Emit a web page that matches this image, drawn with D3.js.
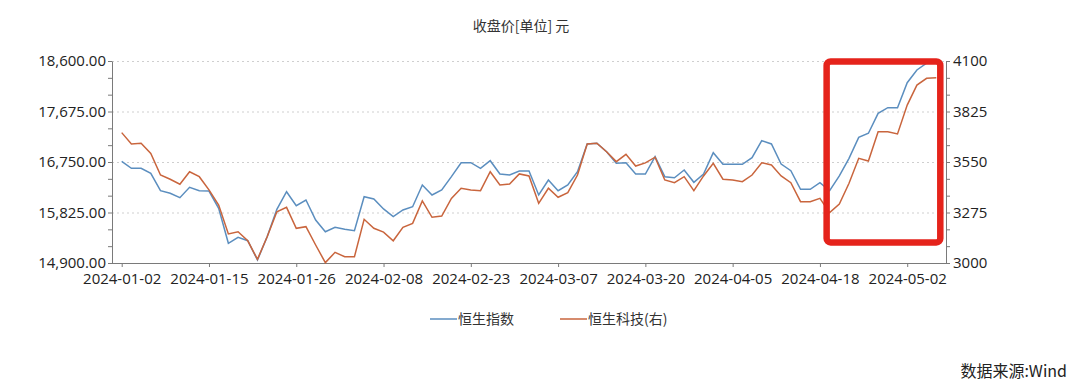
<!DOCTYPE html>
<html>
<head>
<meta charset="utf-8">
<script src="https://cdn.jsdelivr.net/npm/d3@7"></script>
<style>
  body { margin: 0; background: #fff; }
  svg { display: block; }
  .axis text { font-family: "Open Sans", "Noto Sans", sans-serif; font-size: 15px; fill: #222; }
  .axis path, .axis line { stroke: #7a7a7a; }
  .cjk { font-family: "Noto Sans CJK SC", sans-serif; fill: #333; }
</style>
</head>
<body>
<svg id="chart" width="1080" height="383"></svg>
<script>
// trading days shown on the chart
const dates = [
  "2024-01-02","2024-01-03","2024-01-04","2024-01-05","2024-01-08","2024-01-09","2024-01-10","2024-01-11","2024-01-12","2024-01-15",
  "2024-01-16","2024-01-17","2024-01-18","2024-01-19","2024-01-22","2024-01-23","2024-01-24","2024-01-25","2024-01-26","2024-01-29",
  "2024-01-30","2024-01-31","2024-02-01","2024-02-02","2024-02-05","2024-02-06","2024-02-07","2024-02-08","2024-02-09","2024-02-14",
  "2024-02-15","2024-02-16","2024-02-19","2024-02-20","2024-02-21","2024-02-22","2024-02-23","2024-02-26","2024-02-27","2024-02-28",
  "2024-02-29","2024-03-01","2024-03-04","2024-03-05","2024-03-06","2024-03-07","2024-03-08","2024-03-11","2024-03-12","2024-03-13",
  "2024-03-14","2024-03-15","2024-03-18","2024-03-19","2024-03-20","2024-03-21","2024-03-22","2024-03-25","2024-03-26","2024-03-27",
  "2024-03-28","2024-04-02","2024-04-03","2024-04-05","2024-04-08","2024-04-09","2024-04-10","2024-04-11","2024-04-12","2024-04-15",
  "2024-04-16","2024-04-17","2024-04-18","2024-04-19","2024-04-22","2024-04-23","2024-04-24","2024-04-25","2024-04-26","2024-04-29",
  "2024-04-30","2024-05-02","2024-05-03","2024-05-06","2024-05-07"
];

// 恒生指数 (left axis)
const hsi = [
  16760,16635,16635,16543,16224,16177,16096,16286,16224,16217,
  15900,15261,15371,15309,14955,15380,15883,16206,15950,16054,
  15688,15473,15554,15517,15492,16114,16072,15890,15750,15871,
  15931,16329,16146,16237,16481,16737,16737,16635,16774,16530,
  16512,16585,16585,16146,16420,16224,16329,16572,17080,17093,
  16939,16726,16737,16530,16530,16847,16481,16462,16603,16378,
  16530,16920,16708,16708,16708,16829,17140,17080,16713,16591,
  16250,16250,16371,16224,16494,16818,17202,17276,17642,17745,
  17745,18203,18435,18560,18590
];

// 恒生科技 (right axis)
const hstech = [
  3710,3648,3652,3597,3479,3456,3429,3497,3470,3398,
  3316,3158,3170,3121,3020,3143,3279,3303,3189,3198,
  3098,3002,3058,3034,3034,3238,3189,3168,3121,3194,
  3216,3338,3249,3256,3352,3407,3398,3394,3497,3425,
  3430,3485,3474,3325,3407,3358,3383,3479,3648,3652,
  3606,3552,3592,3528,3545,3576,3452,3437,3470,3394,
  3474,3543,3456,3452,3443,3479,3546,3534,3474,3437,
  3334,3334,3352,3274,3321,3434,3570,3555,3715,3715,
  3703,3860,3969,4006,4009
];

const xTicks = ["2024-01-02","2024-01-15","2024-01-26","2024-02-08","2024-02-23","2024-03-07","2024-03-20","2024-04-05","2024-04-18","2024-05-02"];
const leftTicks = [14900, 15825, 16750, 17675, 18600];
const rightTicks = [3000, 3275, 3550, 3825, 4100];

const seriesNames = ["恒生指数", "恒生科技(右)"];
const seriesColors = ["#5b8ebf", "#c9653d"];

// highlighted stretch (red box)
const boxDates = ["2024-04-19", "2024-05-07"];
const boxRight = [3115, 4100];

const margin = {top: 61, right: 134, bottom: 120, left: 112};
const width = 1080, height = 383;

let svg = d3.select("#chart");

let x = d3.scalePoint()
  .domain(dates)
  .range([margin.left, width - margin.right])
  .padding(1);

let yL = d3.scaleLinear()
  .domain([14900, 18600])
  .range([height - margin.bottom, margin.top]);

let yR = d3.scaleLinear()
  .domain([3000, 4100])
  .range([height - margin.bottom, margin.top]);

// minor ticks: three steps between each labelled value
function withMinor(ticks) {
  let out = [];
  for (let i = 0; i < ticks.length; i++) {
    out.push(ticks[i]);
    if (i < ticks.length - 1) {
      let step = (ticks[i + 1] - ticks[i]) / 3;
      out.push(ticks[i] + step, ticks[i] + 2 * step);
    }
  }
  return out;
}

// gridlines
svg.append("g")
  .selectAll("line")
  .data(leftTicks.slice(1))
  .join("line")
  .attr("x1", margin.left)
  .attr("x2", width - margin.right)
  .attr("y1", d => yL(d) + 0.5)
  .attr("y2", d => yL(d) + 0.5)
  .attr("stroke", "#cfcfcf")
  .attr("stroke-dasharray", "2,3");

// title
svg.append("text")
  .classed("cjk", true)
  .text("收盘价[单位] 元")
  .attr("x", 521)
  .attr("y", 31)
  .style("font-size", "14px")
  .style("text-anchor", "middle");

// axes
let fmtL = d3.format(",.2f");
svg.append("g")
  .classed("axis", true)
  .attr("transform", `translate(${margin.left},0)`)
  .call(d3.axisLeft(yL)
    .tickValues(withMinor(leftTicks))
    .tickSizeInner(4)
    .tickSizeOuter(0)
    .tickPadding(2)
    .tickFormat(d => leftTicks.includes(d) ? fmtL(d) : ""));

svg.append("g")
  .classed("axis", true)
  .attr("transform", `translate(${width - margin.right},0)`)
  .call(d3.axisRight(yR)
    .tickValues(withMinor(rightTicks))
    .tickSizeInner(4)
    .tickSizeOuter(0)
    .tickPadding(3)
    .tickFormat(d => rightTicks.includes(d) ? d3.format("d")(d) : ""));

let xAxis = svg.append("g")
  .classed("axis", true)
  .attr("transform", `translate(0,${height - margin.bottom})`)
  .call(d3.axisBottom(x)
    .tickValues(xTicks)
    .tickSizeInner(4)
    .tickSizeOuter(0)
    .tickPadding(6));
xAxis.select(".domain")
  .attr("d", `M${margin.left},0.5H${width - margin.right}`);

// lines
let lineL = d3.line()
  .x((d, i) => x(dates[i]))
  .y(d => yL(d));
let lineR = d3.line()
  .x((d, i) => x(dates[i]))
  .y(d => yR(d));

svg.append("path")
  .datum(hsi)
  .attr("d", lineL)
  .attr("fill", "none")
  .attr("stroke", seriesColors[0])
  .attr("stroke-width", 1.5);

svg.append("path")
  .datum(hstech)
  .attr("d", lineR)
  .attr("fill", "none")
  .attr("stroke", seriesColors[1])
  .attr("stroke-width", 1.5);

// red highlight box
let bx1 = x(boxDates[0]) - 3, bx2 = x(boxDates[1]) + 4;
svg.append("rect")
  .attr("x", bx1)
  .attr("y", yR(boxRight[1]) + 0.5)
  .attr("width", bx2 - bx1)
  .attr("height", yR(boxRight[0]) - yR(boxRight[1]))
  .attr("rx", 4)
  .attr("fill", "none")
  .attr("stroke", "#e5231b")
  .attr("stroke-width", 6.5);

// legend
let legend = svg.append("g")
  .selectAll("g")
  .data(seriesNames)
  .join("g")
  .attr("transform", (d, i) => `translate(${430 + i * 130},319)`);

legend.append("line")
  .attr("x1", 0)
  .attr("x2", 27)
  .attr("stroke", (d, i) => seriesColors[i])
  .attr("stroke-width", 1.5);

legend.append("text")
  .classed("cjk", true)
  .text(d => d)
  .attr("x", 28)
  .attr("y", 5)
  .style("font-size", "14px");

// source
svg.append("text")
  .classed("cjk", true)
  .text("数据来源:Wind")
  .attr("x", 1067)
  .attr("y", 377)
  .style("font-size", "16px")
  .style("fill", "#222")
  .style("text-anchor", "end");
</script>
</body>
</html>
